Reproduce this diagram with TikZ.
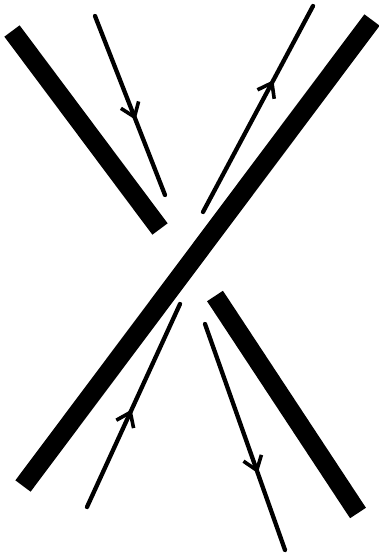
\documentclass[tikz,border=0pt]{standalone}
\usetikzlibrary{arrows.meta,decorations.markings}
\tikzset{
  bar/.style={line width=19pt, line cap=butt, black},
  strand/.style={line width=4.3pt, line cap=round, black},
  midarrow/.style={postaction={decorate}, decoration={markings,
    mark=at position #1 with {\arrow{Straight Barb[length=13pt,width=19pt,line width=3.6pt]}}}}
}
\begin{document}
\begin{tikzpicture}[x=1pt,y=-1pt]
\useasboundingbox (0,0) rectangle (378,557);
% thick bars
\coordinate (b1s) at (12,31);
\coordinate (b1e) at (160,229);
\coordinate (b2s) at (23,486);
\coordinate (b2e) at (372,20);
\coordinate (b3s) at (215,296);
\coordinate (b3e) at (358,513);
\draw[bar] (b1s) -- (b1e);
\draw[bar] (b2s) -- (b2e);
\draw[bar] (b3s) -- (b3e);
% thin strands
\coordinate (a1) at (95,16);
\coordinate (a2) at (165,195);
\coordinate (c1) at (203,212);
\coordinate (c2) at (313,6);
\coordinate (d1) at (87,507);
\coordinate (d2) at (180,304);
\coordinate (e1) at (205,324);
\coordinate (e2) at (285,550);
\draw[strand, midarrow=0.58] (a1) -- (a2);
\draw[strand, midarrow=0.64] (c1) -- (c2);
\draw[strand, midarrow=0.48] (d1) -- (d2);
\draw[strand, midarrow=0.66] (e1) -- (e2);
\end{tikzpicture}
\end{document}
